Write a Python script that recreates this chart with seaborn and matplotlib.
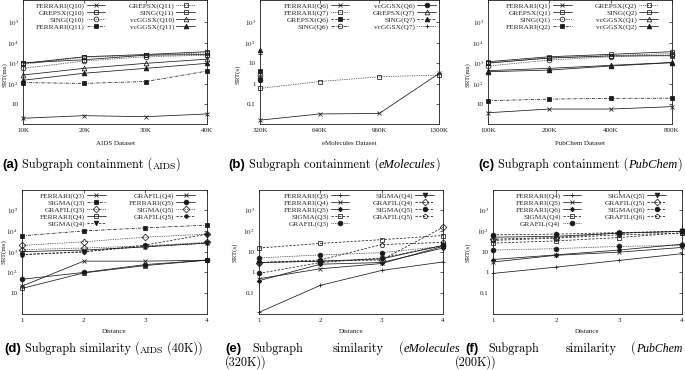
import numpy as np
import pandas as pd
import matplotlib
matplotlib.use("Agg")
import matplotlib.pyplot as plt
import seaborn as sns
from matplotlib.ticker import FixedLocator, FuncFormatter, NullLocator

nan = np.nan

# --- values ---
# (a) subgraph containment, AIDS, SRT in ms
aids_sizes = ["10K", "20K", "30K", "40K"]
aids_series = ["FERRARI(Q10)", "GREPSX(Q10)", "SING(Q10)", "FERRARI(Q11)",
               "GREPSX(Q11)", "SING(Q11)", "vcGGSX(Q10)", "vcGGSX(Q11)"]
aids_srt = [
    [2.1, 2.8, 2.5, 3.4],
    [1000, 2100, 2700, 3700],
    [570, 1300, 2100, 2500],
    [115, 105, 130, 420],
    [900, 2000, 2500, 3300],
    [1050, 1500, 2500, 2700],
    [270, 570, 1000, 1600],
    [150, 330, 570, 1000],
]

# (b) subgraph containment, eMolecules, SRT in s
emol_sizes = ["320K", "640K", "960K", "1300K"]
emol_series = ["FERRARI(Q6)", "FERRARI(Q7)", "GREPSX(Q6)", "SING(Q6)",
               "vcGGSX(Q6)", "GREPSX(Q7)", "SING(Q7)", "vcGGSX(Q7)"]
emol_srt = [
    [0.017, 0.034, 0.036, 3.2],
    [0.6, 1.3, 2.2, 2.7],
    [4.4, nan, nan, nan],
    [2.7, nan, nan, nan],
    [1.5, nan, nan, nan],
    [2.5, nan, nan, nan],
    [45, nan, nan, nan],
    [30, nan, nan, nan],
]

# (c) subgraph containment, PubChem, SRT in ms
pub_sizes = ["100K", "200K", "400K", "800K"]
pub_series = ["FERRARI(Q1)", "GREPSX(Q1)", "SING(Q1)", "FERRARI(Q2)",
              "GREPSX(Q2)", "SING(Q2)", "vcGGSX(Q1)", "vcGGSX(Q2)"]
pub_srt = [
    [3.9, 5.9, 5.9, 7.7],
    [1200, 2100, 2750, 3700],
    [740, 1450, 2100, 2550],
    [15, 18, 19.6, 20],
    [1000, 1900, 2400, 3000],
    [1050, 1800, 2300, 2350],
    [440, 570, 800, 1100],
    [390, 470, 740, 1080],
]

# (d) subgraph similarity, AIDS 40K, SRT in ms
distances = ["1", "2", "3", "4"]
aids40_series = ["FERRARI(Q3)", "SIGMA(Q3)", "GRAFIL(Q3)", "FERRARI(Q4)", "SIGMA(Q4)",
                 "GRAFIL(Q4)", "FERRARI(Q5)", "SIGMA(Q5)", "GRAFIL(Q5)"]
aids40_srt = [
    [22, 350, 350, 390],
    [5800, 10000, 14000, 19000],
    [2000, 3000, 5000, 7000],
    [17, 95, 215, 390],
    [720, 1000, 1800, 2600],
    [1000, 1200, 1700, 2600],
    [47, 100, 240, 390],
    [1250, 1500, 1900, 2800],
    [720, 970, 2100, 7000],
]

# (e) subgraph similarity, eMolecules 320K, SRT in s
emol320_series = ["FERRARI(Q3)", "FERRARI(Q4)", "FERRARI(Q5)", "SIGMA(Q3)", "GRAFIL(Q3)",
                  "SIGMA(Q4)", "GRAFIL(Q4)", "SIGMA(Q5)", "GRAFIL(Q5)"]
emol320_srt = [
    [0.012, 0.24, 1.25, 3.2],
    [0.5, 1.5, 2.7, 18],
    [0.4, 2.5, 3.0, 15],
    [15, 25, 38, 60],
    [5, 7, 9, 18],
    [3, 3.5, 4.5, 20],
    [3, 3.5, 4, 150],
    [0.9, 3, 5, 20],
    [3, 4, 22, 28],
]

# (f) subgraph similarity, PubChem 200K, SRT in s
pub200_series = ["FERRARI(Q4)", "FERRARI(Q5)", "FERRARI(Q6)", "SIGMA(Q4)", "GRAFIL(Q4)",
                 "SIGMA(Q5)", "GRAFIL(Q5)", "SIGMA(Q6)", "GRAFIL(Q6)"]
pub200_srt = [
    [0.9, 1.8, 3.8, 8],
    [3.2, 6.7, 9.5, 16],
    [4.2, 7, 12, 23],
    [26, 33, 48, 82],
    [12, 14, 18, 20],
    [50, 55, 78, 95],
    [40, 48, 80, 95],
    [65, 70, 83, 95],
    [35, 45, 65, 77],
]

# --- styles (gnuplot monochrome look) ---
SOLID, DOT, DASH, DASHDOT = "-", (0, (1, 1.3)), (0, (3, 2)), (0, (4, 1.5, 1, 1.5))
AST = (8, 2, 0)
cont_style = [(SOLID, "x", 1), (SOLID, "s", 0), (DOT, "o", 0), (DASHDOT, "s", 1),
              (DOT, "s", 0), (SOLID, "s", 0), (SOLID, "^", 0), (SOLID, "^", 1)]
emol_style = [(SOLID, "x", 1), (DOT, "s", 0), (DASH, "s", 1), (DASHDOT, "o", 0),
              (SOLID, "o", 1), (SOLID, "^", 0), (DASH, "^", 1), (DOT, "+", 1)]
aids40_style = [(SOLID, "x", 1), (DASHDOT, "s", 1), (DOT, "D", 0), (SOLID, "s", 0),
                (DASH, "v", 1), (SOLID, "x", 1), (SOLID, "o", 1), (DOT, "D", 0), (DASH, ".", 1)]
sim_style = [(SOLID, "+", 1), (SOLID, "x", 1), (SOLID, AST, 1), (DASH, "s", 0), (DOT, "o", 1),
             (SOLID, "v", 1), (DASH, "D", 0), (DASH, "o", 1), (DASH, "p", 0)]

INK = "#1a1a1a"
W, H = 685, 370

sns.set_theme(style="white")
plt.rcParams["font.family"] = ["Liberation Serif", "DejaVu Serif"]
plt.rcParams["mathtext.fontset"] = "stix"

fig = plt.figure(figsize=(W / 100, H / 100), dpi=100)


def add_axes(l, t, r, b):
    return fig.add_axes([l / W, 1 - b / H, (r - l) / W, (b - t) / H])


def log_label(v, pos):
    if v < 1:
        return f"{v:g}"
    if v <= 10:
        return f"{int(v)}"
    return r"$10^{%d}$" % round(np.log10(v))


# panel: (rect px, x labels, series, values, styles, xlabel, ylabel, ylim, yticks,
#         legend right anchor, ylabel x px, ylabel y frac, xlabel y frac)
panels = [
    ((23, 0, 207, 124), aids_sizes, aids_series, aids_srt, cont_style, "AIDS Dataset", "SRT(ms)",
     (1.1, 10 ** 6.09), [10, 1e2, 1e3, 1e4, 1e5], 0.946, 5, 0.40, -0.14),
    ((260, 0, 439, 124), emol_sizes, emol_series, emol_srt, emol_style, "eMolecules Dataset", "SRT(s)",
     (0.011, 10 ** 4.09), [0.1, 1, 10, 1e2, 1e3], 0.994, 238, 0.40, -0.14),
    ((488, 0, 672, 124), pub_sizes, pub_series, pub_srt, cont_style, "PubChem Dataset", "SRT(ms)",
     (1.1, 10 ** 6.09), [10, 1e2, 1e3, 1e4, 1e5], 0.935, 468, 0.40, -0.14),
    ((22, 190, 207, 314), distances, aids40_series, aids40_srt, aids40_style, "Distance", "SRT(ms)",
     (1.0, 10 ** 5.97), [10, 1e2, 1e3, 1e4, 1e5], 0.946, 4, 0.5, -0.12),
    ((259, 190, 443, 314), distances, emol320_series, emol320_srt, sim_style, "Distance", "SRT(s)",
     (0.01, 10 ** 3.97), [0.1, 1, 10, 1e2, 1e3], 0.962, 235, 0.5, -0.12),
    ((493, 190, 682, 314), distances, pub200_series, pub200_srt, sim_style, "Distance", "SRT(s)",
     (0.01, 10 ** 3.97), [0.1, 1, 10, 1e2, 1e3], 0.926, 468, 0.5, -0.12),
]

axes = []
for rect, xl, names, vals, styles, xlab, ylab, ylim, yticks, lx, ylx, yly, xly in panels:
    ax = add_axes(*rect)
    axes.append(ax)
    xpos = list(range(len(xl)))
    for name, v, (ls, mk, filled) in zip(names, vals, styles):
        ms = 2.6 if mk == "." else 3.4
        sns.lineplot(x=xpos, y=v, ax=ax, color=INK, linestyle=ls, linewidth=0.55,
                     marker="o" if mk == "." else mk, markersize=ms,
                     markerfacecolor=INK if filled else "none", markeredgecolor=INK,
                     markeredgewidth=0.55, label=name, clip_on=False, legend=False)
    ax.set_yscale("log")
    ax.set_ylim(*ylim)
    ax.set_xlim(0, len(xl) - 1)
    ax.set_xticks(xpos)
    ax.set_xticklabels(xl)
    ax.yaxis.set_major_locator(FixedLocator(yticks))
    ax.yaxis.set_minor_locator(NullLocator())
    ax.yaxis.set_major_formatter(FuncFormatter(log_label))
    ax.tick_params(direction="in", length=2.2, width=0.5, labelsize=5, top=True, right=True,
                   pad=3, colors=INK)
    for s in ax.spines.values():
        s.set_linewidth(0.6)
        s.set_color(INK)
    ax.set_xlabel(xlab, fontsize=5, color=INK)
    ax.xaxis.set_label_coords(0.5, xly)
    ax.set_ylabel(ylab, fontsize=5, color=INK)
    ax.yaxis.set_label_coords((ylx - rect[0]) / (rect[2] - rect[0]), yly)
    ax.yaxis.label.set_va("center")
    ax.legend(ncol=2, loc="upper right", bbox_to_anchor=(lx, 1.0), frameon=False,
              markerfirst=False, fontsize=5.3, handlelength=2.5, handletextpad=0.3,
              columnspacing=3.2, labelspacing=0.07, borderpad=0.3, borderaxespad=0)

# --- captions ---
TAG = dict(family="Liberation Sans", weight="bold", fontsize=9.5, color="black")
CM = dict(family="cmr10", fontsize=8.8, color="black")
SC = dict(family="cmr10", fontsize=7.0, color="black")
IT = dict(family="Liberation Serif", style="italic", fontsize=9.0, color="black")
IT_S = dict(family="Liberation Serif", style="italic", fontsize=8.5, color="black")


def chain(x, y, parts):
    t = fig.text(x / W, 1 - y / H, parts[0][0], va="baseline", ha="left", **parts[0][1])
    for s, kw in parts[1:]:
        t = axes[0].annotate(s, xy=(1, 0), xycoords=t, va="bottom", ha="left",
                             annotation_clip=False, **kw)
    return t


chain(2, 168, [("(a)", TAG), (" Subgraph containment (", CM), ("AIDS", SC), (")", CM)])
chain(228, 168, [("(b)", TAG), (" Subgraph containment (", CM), ("eMolecules", IT), (")", CM)])
chain(478, 168, [("(c)", TAG), (" Subgraph containment (", CM), ("PubChem", IT), (")", CM)])
chain(4, 352, [("(d)", TAG), (" Subgraph similarity (", CM), ("AIDS", SC), (" (40K))", CM)])

chain(225, 352, [("(e)", TAG)])
chain(252, 352, [("Subgraph", CM)])
chain(333, 352, [("similarity", CM)])
chain(399, 352, [("(", CM), ("eMolecules", IT)])
chain(225, 366, [("(320K))", CM)])

chain(465, 352, [("(f)", TAG)])
chain(488, 352, [("Subgraph", CM)])
chain(566, 352, [("similarity", CM)])
chain(631, 352, [("(", CM), ("PubChem", IT_S)])
chain(455, 366, [("(200K))", CM)])

fig.savefig("out.png", dpi=100)
